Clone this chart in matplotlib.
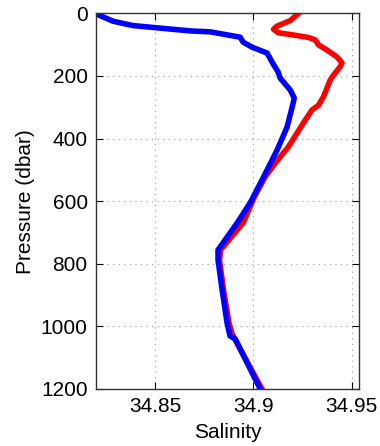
import matplotlib.pyplot as plt
import numpy as np

plt.rcParams['font.family'] = ['Liberation Sans', 'DejaVu Sans']

# profile 1 (blue): salinity vs pressure
sal_blue = [34.8195, 34.8286, 34.8388, 34.8525, 34.8678, 34.878, 34.8932, 34.8948,
            34.8993, 34.907, 34.9095, 34.9125, 34.9136, 34.9187, 34.9207, 34.9202,
            34.9171, 34.912, 34.9044, 34.8983, 34.8917, 34.882, 34.882, 34.8841,
            34.8866, 34.8881, 34.8907, 34.9034]
p_blue = [0, 25, 39, 47, 56, 59, 76, 92, 108, 127, 156, 187, 207, 245, 270, 286,
          363, 437, 532, 606, 670, 756, 788, 884, 989, 1031, 1040, 1200]

# profile 2 (red)
sal_red = [34.9229, 34.9187, 34.9119, 34.9102, 34.9127, 34.9203, 34.928, 34.9314,
           34.9331, 34.9373, 34.9424, 34.945, 34.9441, 34.9407, 34.939, 34.9356,
           34.9331, 34.9297, 34.9263, 34.9221, 34.9178, 34.911, 34.906, 34.9005,
           34.8948, 34.8833, 34.8828, 34.8848, 34.8876, 34.8892, 34.9043]
p_red = [0, 23, 41, 51, 62, 69, 77, 85, 101, 117, 139, 158, 170, 197, 213, 266,
         293, 309, 341, 383, 426, 479, 522, 586, 669, 756, 790, 884, 989, 1025, 1200]

fig = plt.figure(figsize=(3.8, 4.46), dpi=100)
ax = fig.add_axes([0.2526, 0.128, 0.692, 0.842])

ax.plot(sal_red, p_red, color='#ff0000', lw=4, solid_joinstyle='round')
ax.plot(sal_blue, p_blue, color='#0000ff', lw=4, solid_joinstyle='round')

ax.set_xlim(34.82, 34.9536)
ax.set_ylim(1200, 0)
ax.set_xticks([34.85, 34.9, 34.95])
ax.set_xticklabels(['34.85', '34.9', '34.95'])
ax.set_yticks(np.arange(0, 1201, 200))

ax.grid(True, color='#999999', linestyle=(0, (1, 4)), lw=0.8)
ax.tick_params(direction='in', top=True, right=True, length=5, labelsize=15,
               width=0.8, pad=6)
for s in ax.spines.values():
    s.set_linewidth(1.0)
    s.set_color('#333333')

ax.set_xlabel('Salinity', fontsize=15, labelpad=5)
ax.set_ylabel('Pressure (dbar)', fontsize=15, labelpad=4)

fig.savefig('out.png', dpi=100)
